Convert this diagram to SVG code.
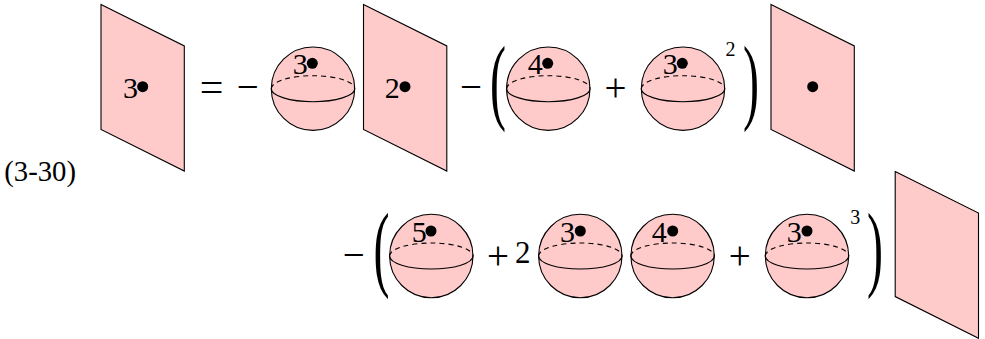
<svg xmlns="http://www.w3.org/2000/svg" width="985" height="339" viewBox="0 0 985 339">
<style>
.s{fill:#ffcaca;stroke:#000;stroke-width:1.1}
.n{fill:none;stroke:#000;stroke-width:1.1}
.d{fill:none;stroke:#000;stroke-width:1.1;stroke-dasharray:5 4}
.t{font-family:"Liberation Serif","Times New Roman",serif;font-size:30px;fill:#000}
.l{font-family:"Liberation Serif","Times New Roman",serif;font-size:28.7px;fill:#000}
.o{font-family:"Liberation Serif","Times New Roman",serif;font-size:39px;fill:#000}
.u{font-family:"Liberation Serif","Times New Roman",serif;font-size:20px;fill:#000}
.p{font-family:"Liberation Serif","Times New Roman",serif;font-size:96px;fill:#000}
</style>
<defs>
<polygon id="plane" class="s" points="0,0 83.3,41.5 83.3,166.7 0,125"/>
<g id="sphere">
<circle class="s" cx="0" cy="0" r="41.7"/>
<path class="n" d="M-41.7,0A41.7,13 0 0 0 41.7,0"/>
<path class="d" d="M-41.7,0A41.7,13 0 0 1 41.7,0"/>
</g>
<circle id="dot" r="5.5" fill="#000"/>
</defs>
<g id="connectors"/>
<g id="plane-1"><use href="#plane" x="101" y="4.4"/><text class="t" x="123" y="98">3</text><use href="#dot" x="142.7" y="86.7"/></g>
<g id="sphere-1"><use href="#sphere" x="313" y="88.7"/><text class="t" x="292.8" y="74.3">3</text><use href="#dot" x="312.3" y="63.3"/></g>
<g id="plane-2"><use href="#plane" x="363.5" y="4.4"/><text class="t" x="384.8" y="98">2</text><use href="#dot" x="405" y="86.7"/></g>
<g id="sphere-2"><use href="#sphere" x="548.3" y="88.7"/><text class="t" x="527.8" y="74.3">4</text><use href="#dot" x="547.7" y="63.3"/></g>
<g id="sphere-3"><use href="#sphere" x="683" y="88.7"/><text class="t" x="662.8" y="74.3">3</text><use href="#dot" x="682.3" y="63.3"/></g>
<g id="plane-3"><use href="#plane" x="771" y="4.4"/><use href="#dot" x="812.7" y="86.7"/></g>
<g id="sphere-4"><use href="#sphere" x="431.3" y="256"/><text class="t" x="411.8" y="242.3">5</text><use href="#dot" x="431" y="231"/></g>
<g id="sphere-5"><use href="#sphere" x="580.3" y="256"/><text class="t" x="560" y="242.3">3</text><use href="#dot" x="580.3" y="231"/></g>
<g id="sphere-6"><use href="#sphere" x="672.6" y="256"/><text class="t" x="651.8" y="242.3">4</text><use href="#dot" x="672.7" y="231"/></g>
<g id="sphere-7"><use href="#sphere" x="807" y="256"/><text class="t" x="786.8" y="242.3">3</text><use href="#dot" x="807" y="231"/></g>
<g id="plane-4"><use href="#plane" x="895.2" y="171.6"/></g>
<g id="labels">
<text class="l" x="4.3" y="181">(3-30)</text>
<text class="o" x="199.8" y="101" style="font-size:42px">=</text>
<text class="o" x="236.8" y="99.5">−</text>
<text class="o" x="460" y="99.5">−</text>
<text class="o" x="604.5" y="100.7">+</text>
<text class="u" x="725.5" y="56">2</text>
<text class="o" x="342.8" y="267.5">−</text>
<text class="o" x="487" y="268.7">+</text>
<text class="t" x="515" y="262.5" style="font-size:31px">2</text>
<text class="o" x="728.8" y="268.7">+</text>
<text class="u" x="850.3" y="224">3</text>
<text class="p" transform="translate(490,112) scale(.5,1)">(</text>
<text class="p" transform="translate(743,112) scale(.5,1)">)</text>
<text class="p" transform="translate(373.5,279) scale(.5,1)">(</text>
<text class="p" transform="translate(867,279) scale(.5,1)">)</text>
</g>
</svg>
